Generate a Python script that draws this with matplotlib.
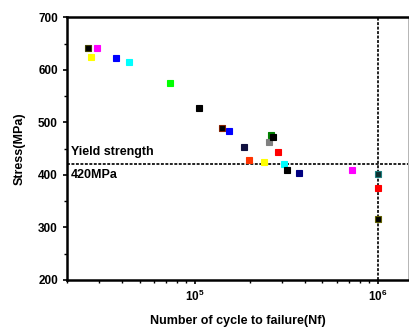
import numpy as np
import matplotlib
matplotlib.use("Agg")
import matplotlib.pyplot as plt
from matplotlib.ticker import LogLocator, MultipleLocator

plt.rcParams['font.family'] = ['Liberation Sans', 'DejaVu Sans']
plt.rcParams['font.weight'] = 'bold'

# data: cycles to failure, stress (MPa), marker colour
cycles = [2.59e4, 2.69e4, 2.92e4, 3.70e4, 4.39e4, 7.36e4, 1.06e5, 1.41e5,
          1.53e5, 1.86e5, 1.98e5, 2.39e5, 2.55e5, 2.60e5, 2.68e5, 2.86e5,
          3.06e5, 3.20e5, 3.72e5, 7.24e5, 1.0e6, 1.0e6, 1.0e6]
stress = [641, 625, 641, 622, 615, 575, 527, 490,
          484, 454, 428, 425, 462, 476, 473, 444,
          420, 409, 403, 409, 401, 375, 316]
colors = ['black', 'yellow', 'magenta', 'blue', 'cyan', 'lime', 'black', 'black',
          'blue', '#101040', '#ff3300', 'yellow', 'gray', 'green', 'black', 'red',
          'cyan', 'black', '#000080', 'magenta', '#103030', 'red', 'black']
edges = ['#404000', 'yellow', 'magenta', 'blue', 'cyan', 'lime', 'black', '#802000',
         'blue', '#101040', '#ff3300', 'yellow', 'gray', 'green', 'black', 'red',
         'cyan', 'black', '#000080', 'magenta', '#208080', 'red', '#606000']

yield_strength = 420
runout = 1e6

fig = plt.figure(figsize=(4.09, 3.36), dpi=100)
ax = fig.add_axes([0.1638, 0.1667, 0.834, 0.7813])

for x, y, c, e in zip(cycles, stress, colors, edges):
    ax.plot(x, y, 's', color=c, markeredgecolor=e, markersize=5, markeredgewidth=0.8)

ax.axhline(yield_strength, color='#222222', linestyle=(0, (1.5, 0.8)), linewidth=1.4, zorder=0)
ax.axvline(runout, color='#222222', linestyle=(0, (1.5, 0.8)), linewidth=1.4, zorder=0)

ax.text(2.1e4, 432, 'Yield strength', fontsize=9, fontweight='bold', va='bottom')
ax.text(2.1e4, 411, '420MPa', fontsize=9, fontweight='bold', va='top')

ax.set_xscale('log')
ax.set_xlim(2e4, 1.47e6)
ax.set_ylim(200, 700)
ax.xaxis.set_major_locator(LogLocator(base=10))
ax.xaxis.set_minor_locator(LogLocator(base=10, subs=np.arange(2, 10)))
ax.yaxis.set_major_locator(MultipleLocator(100))
ax.yaxis.set_minor_locator(MultipleLocator(50))
ax.tick_params(which='major', length=3, width=1.2, labelsize=8.5)
ax.tick_params(which='minor', length=2, width=1)
for s in ax.spines.values():
    s.set_linewidth(1.8)
ax.spines['right'].set_linewidth(0.6)
ax.spines['right'].set_color('#aaaaaa')

ax.set_xlabel('Number of cycle to failure(Nf)', fontsize=9, fontweight='bold', labelpad=8)
ax.set_ylabel('Stress(MPa)', fontsize=9, fontweight='bold', labelpad=9)

fig.savefig('out.png', dpi=100)
